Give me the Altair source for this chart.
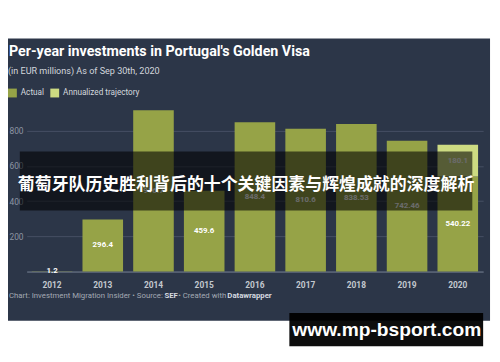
import altair as alt
import pandas as pd

# ---- data ----
years = ["2012", "2013", "2014", "2015", "2016", "2017", "2018", "2019", "2020"]
actual = [1.2, 296.4, 916.7, 459.6, 848.4, 810.6, 838.53, 742.46, 540.22]
annualized_year = "2020"
annualized_value = 180.1
series_names = ["Actual", "Annualized trajectory"]
series_colors = ["#96a347", "#cddb82"]
y_ticks = [0, 200, 400, 600, 800]

title_text = "Per-year investments in Portugal's Golden Visa"
subtitle_text = "(in EUR millions) As of Sep 30th, 2020"
banner_text = "葡萄牙队历史胜利背后的十个关键因素与辉煌成就的深度解析"
watermark_text = "www.mp-bsport.com"

rows = []
for yr, v in zip(years, actual):
    rows.append(dict(year=yr, series="Actual", y0=0.0, y1=v, label=str(v)))
base_2020 = actual[years.index(annualized_year)]
rows.append(dict(year=annualized_year, series="Annualized trajectory",
                 y0=base_2020, y1=base_2020 + annualized_value, label=str(annualized_value)))
df = pd.DataFrame(rows)

W, H = 464, 179
BG = "#2c3648"
one = pd.DataFrame({"k": [0]})

x_enc = alt.X("year:N", sort=years,
              scale=alt.Scale(paddingInner=0.2, paddingOuter=0.1),
              axis=alt.Axis(title=None, labelAngle=0, ticks=False, tickSize=0,
                            domain=True, domainColor="#6e778a", domainWidth=1,
                            labelColor="#c3c8cf", labelFontSize=8.5, labelFontWeight="bold",
                            labelPadding=9, labelFont="Roboto"))
y_scale = alt.Scale(domain=[0, 1000], nice=False)

bars = alt.Chart(df).mark_bar().encode(
    x=x_enc,
    y=alt.Y("y1:Q", scale=y_scale,
            axis=alt.Axis(title=None, values=y_ticks,
                          labelExpr="datum.value == 0 ? '' : datum.label",
                          ticks=False, tickSize=0, domain=False, grid=True,
                          gridColor="#465064", gridWidth=1,
                          labelAlign="left", labelBaseline="middle", labelPadding=18,
                          labelColor="#8d95a3", labelFontSize=8.5, labelFont="Roboto")),
    y2="y0:Q",
    color=alt.Color("series:N",
                    scale=alt.Scale(domain=series_names, range=series_colors),
                    legend=alt.Legend(orient="none", legendX=-19, legendY=-7,
                                      direction="horizontal", title=None,
                                      symbolType="square", symbolSize=81,
                                      symbolStrokeWidth=0, symbolOpacity=1,
                                      labelFontSize=8.3, labelColor="#d5d9de",
                                      labelFont="Roboto", columnPadding=6,
                                      labelOffset=4)),
)

labels = alt.Chart(df).transform_calculate(
    mid="(datum.y0 + datum.y1) / 2"
).mark_text(color="white", fontSize=8, fontWeight="bold", font="Roboto",
            baseline="middle", align="center").encode(
    x=alt.X("year:N", sort=years),
    y=alt.Y("mid:Q", scale=y_scale),
    text="label:N",
)


def rect(x, x2, y, y2, color, opacity=1.0):
    return alt.Chart(one).mark_rect(color=color, opacity=opacity).encode(
        x=alt.value(x), x2=alt.value(x2), y=alt.value(y), y2=alt.value(y2))


def text(t, x, y, size, color, weight="normal", align="left", baseline="alphabetic", font="Roboto"):
    return alt.Chart(one).mark_text(text=t, fontSize=size, color=color, fontWeight=weight,
                                    align=align, baseline=baseline, font=font).encode(
        x=alt.value(x), y=alt.value(y))


top_band = rect(-30, 480, -100, -58, "white")
bottom_band = rect(-30, 480, 229, 300, "white")
right_band = rect(471, 480, -100, 300, "white")

title = text(title_text, -18, -40, 14.5, "white", weight="bold")
subtitle = text(subtitle_text, -19, -22, 9.2, "#d3d7dd")

foot_color = "#a3a9b3"
FS = 7.9
foot1 = text("Chart: Investment Migration Insider • Source:", -18, 206, FS, foot_color)
foot2 = text("SEF", 140, 206, FS, "#d6dae0", weight="bold")
foot3 = text("• Created with", 154, 206, FS, foot_color)
foot4 = text("Datawrapper", 204, 206, FS, "#d6dae0", weight="bold")

banner = rect(-7, 453, 57, 117, "black", 0.58)
banner_t = text(banner_text, 223, 91, 17.2, "white", weight="bold", align="center",
                baseline="middle", font="Noto Sans CJK SC")

wm_box = rect(267, 464, 221, 255, "black", 0.95)
wm_t = text(watermark_text, 366, 239, 19.5, "white", weight="bold", align="center",
            baseline="middle", font="Liberation Sans")

chart = alt.layer(
    bars, labels, top_band, bottom_band, right_band, title, subtitle,
    foot1, foot2, foot3, foot4, banner, banner_t, wm_box, wm_t
).properties(
    width=W, height=H,
    padding={"left": 19, "top": 86, "right": 9, "bottom": 89},
    autosize="none",
).configure(background=BG).configure_view(stroke=None)

chart.save("out.html", embed_options={"renderer": "svg", "actions": False})
